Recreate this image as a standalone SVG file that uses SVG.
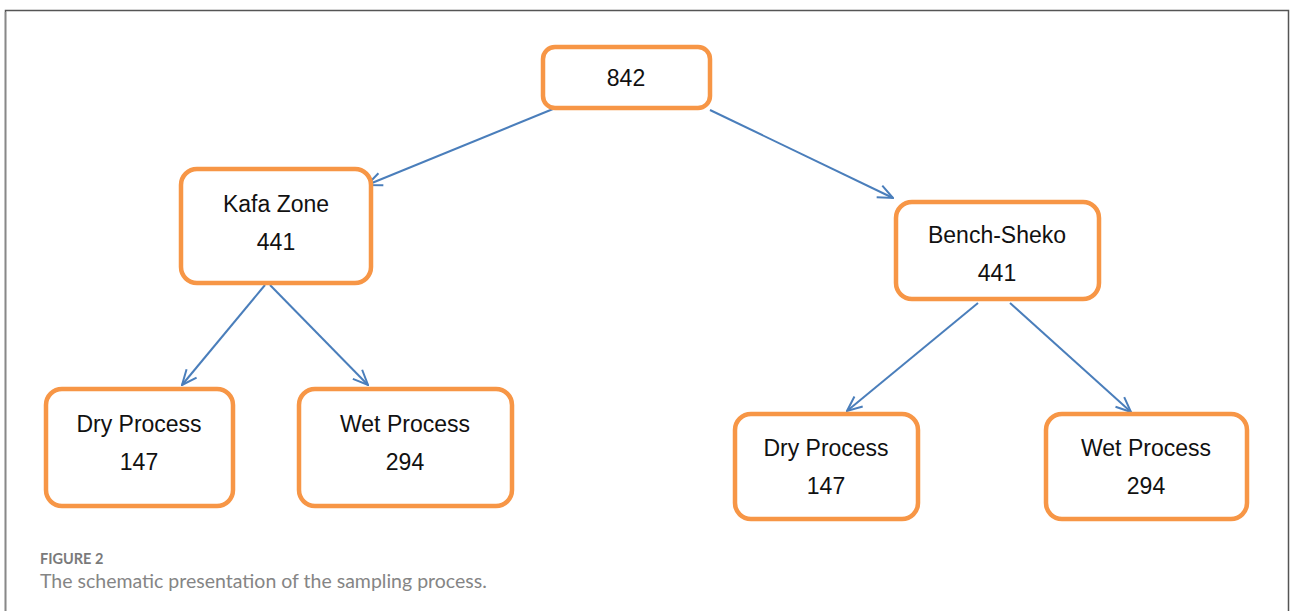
<svg xmlns="http://www.w3.org/2000/svg" width="1290" height="611" viewBox="0 0 1290 611">
<style>
.box{fill:#fff;stroke:#f79646;stroke-width:4.5}
.t{font-family:"Liberation Sans",Arial,sans-serif;font-size:23px;fill:#111;text-anchor:middle}
.c{stroke:#4a7ebb;stroke-width:2;fill:none}
.cap1{font-family:Lato,"Liberation Sans",sans-serif;font-size:14.5px;font-weight:bold;fill:#7a7a7a}
.cap2{font-family:Lato,"Liberation Sans",sans-serif;font-size:19.5px;fill:#858585}
</style>
<defs>
<marker id="ah" viewBox="0 0 18 18" refX="17" refY="9" markerWidth="18" markerHeight="18" markerUnits="userSpaceOnUse" orient="auto">
<path d="M2,2.5 L17,9 L2,15.5" fill="none" stroke="#4a7ebb" stroke-width="2"/>
</marker>
</defs>
<rect x="0" y="0" width="1290" height="611" fill="#fff"/>
<path d="M5.5,611 V10.5 H1288.5 V611" fill="none" stroke="#555" stroke-width="1.5"/>
<path d="M5.5,611 V12" fill="none" stroke="#888" stroke-width="1.5"/>
<g id="connectors">
<line class="c" x1="553" y1="109" x2="367" y2="185" marker-end="url(#ah)"/>
<line class="c" x1="710" y1="110" x2="893" y2="198" marker-end="url(#ah)"/>
<line class="c" x1="265" y1="285" x2="182" y2="385" marker-end="url(#ah)"/>
<line class="c" x1="270" y1="285" x2="368" y2="385" marker-end="url(#ah)"/>
<line class="c" x1="978" y1="303" x2="847" y2="411" marker-end="url(#ah)"/>
<line class="c" x1="1010" y1="303" x2="1131" y2="412" marker-end="url(#ah)"/>
</g>
<g id="n842">
<rect class="box" x="543" y="47" width="167" height="61" rx="12"/>
<text class="t" x="626" y="86">842</text>
</g>
<g id="kafa">
<rect class="box" x="181" y="169" width="190" height="114" rx="16"/>
<text class="t" x="276" y="212">Kafa Zone</text>
<text class="t" x="276" y="250">441</text>
</g>
<g id="bench">
<rect class="box" x="896" y="202" width="203" height="97" rx="16"/>
<text class="t" x="997" y="243">Bench-Sheko</text>
<text class="t" x="997" y="281">441</text>
</g>
<g id="dry1">
<rect class="box" x="46" y="389" width="187" height="117" rx="16"/>
<text class="t" x="139" y="432">Dry Process</text>
<text class="t" x="139" y="470">147</text>
</g>
<g id="wet1">
<rect class="box" x="299" y="389" width="213" height="117" rx="16"/>
<text class="t" x="405" y="432">Wet Process</text>
<text class="t" x="405" y="470">294</text>
</g>
<g id="dry2">
<rect class="box" x="735" y="414" width="183" height="105" rx="16"/>
<text class="t" x="826" y="456">Dry Process</text>
<text class="t" x="826" y="494">147</text>
</g>
<g id="wet2">
<rect class="box" x="1046" y="414" width="201" height="105" rx="16"/>
<text class="t" x="1146" y="456">Wet Process</text>
<text class="t" x="1146" y="494">294</text>
</g>
<text class="cap1" x="40" y="564">FIGURE 2</text>
<text class="cap2" x="40" y="588">The schematic presentation of the sampling process.</text>
</svg>
